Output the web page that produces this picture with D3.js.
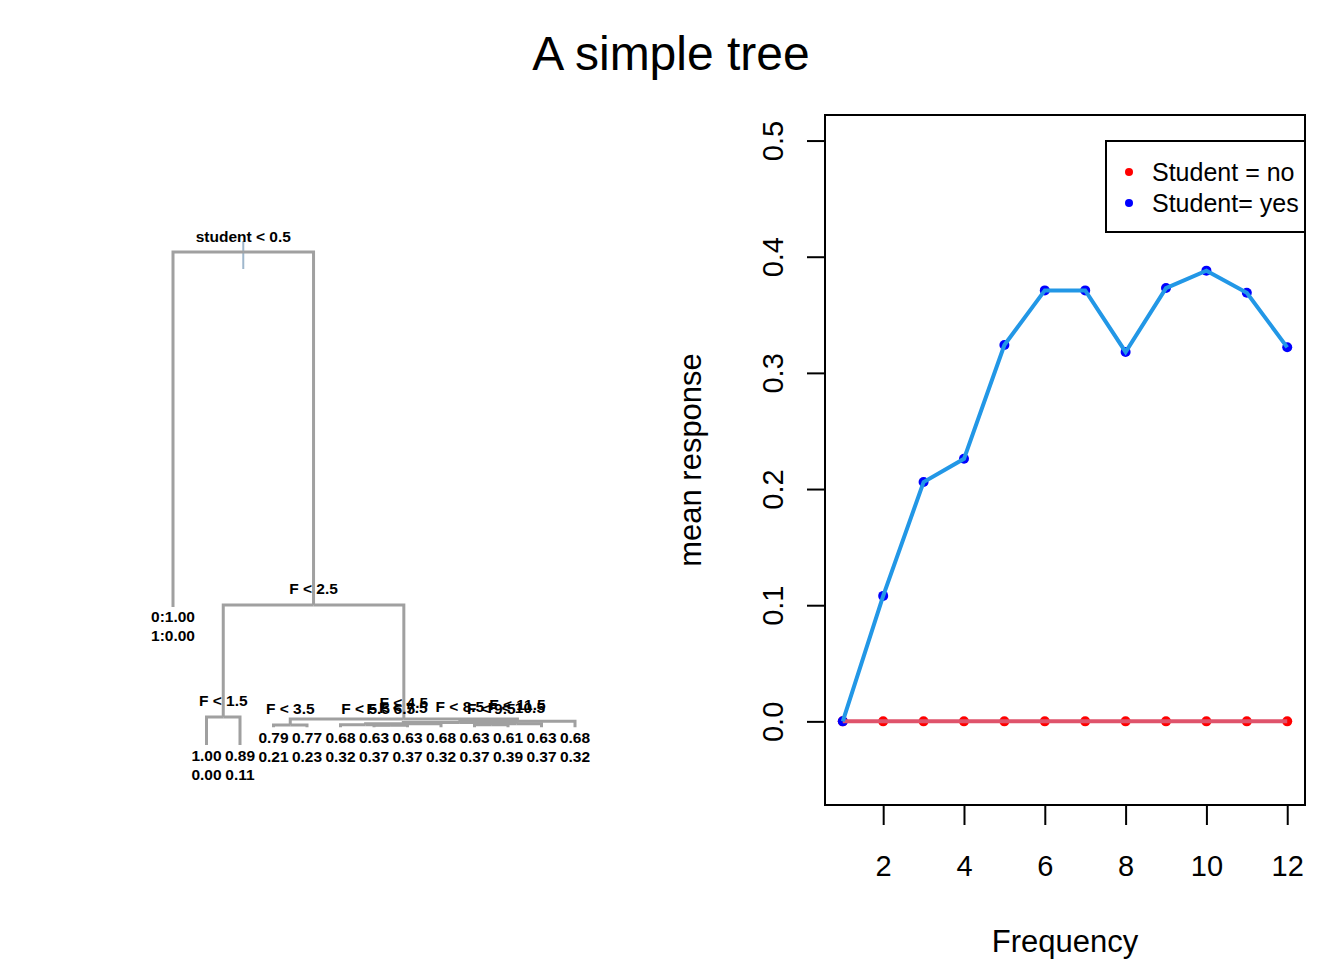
<!DOCTYPE html>
<html lang="en">
<head>
<meta charset="UTF-8">
<title>A simple tree</title>
<style>
    body { margin:0; background:#fff; }
    svg text { font-family: "Liberation Sans", Arial, sans-serif; }
    .tree text { font-weight:bold; font-size:15.5px; fill:#000; }
    .axis text { font-size:29px; fill:#000; }
    .axis line { stroke:#000; stroke-width:2; }
</style>
</head>
<body>
<script src="https://cdn.jsdelivr.net/npm/d3@7"></script>
<script>
// ---- tree data (left panel) ----
var nodeName   = ["root","no","s2","s1","F1","F2","s4","s3","F3","F4","s11","s8","s7","s5","F5","s6","F6","F7","F8","s10","s9","F9","F10","F11","F12"];
var nodeParent = ["",   "root","root","s2","s1","s1","s2","s4","s3","s3","s4","s11","s8","s7","s5","s5","s6","s6","s7","s8","s10","s9","s9","s10","s11"];
var splitLabel = {root:"student < 0.5", s2:"F < 2.5", s1:"F < 1.5", s4:"F < 4.5", s3:"F < 3.5",
                  s11:"F < 11.5", s8:"F < 8.5", s7:"F < 7.5", s5:"F < 5.5", s6:"F < 6.5", s10:"F < 10.5", s9:"F < 9.5"};
// node deviance (estimated, arbitrary units)
var nodeDev    = [500, 140, 142, 28.4, 0, 0, 26.4, 20.3, 18, 18, 24, 22.8, 21.5, 20.5, 18, 20, 18, 18, 18, 21.5, 20.5, 18, 18, 18, 18];
var leafProb0  = {no:"0:1.00", F1:"1.00", F2:"0.89", F3:"0.79", F4:"0.77", F5:"0.68", F6:"0.63", F7:"0.63", F8:"0.68", F9:"0.63", F10:"0.61", F11:"0.63", F12:"0.68"};
var leafProb1  = {no:"1:0.00", F1:"0.00", F2:"0.11", F3:"0.21", F4:"0.23", F5:"0.32", F6:"0.37", F7:"0.37", F8:"0.32", F9:"0.37", F10:"0.39", F11:"0.37", F12:"0.32"};

// ---- mean response data (right panel) ----
var frequency = [1,2,3,4,5,6,7,8,9,10,11,12];
var meanNo    = [0,0,0,0,0,0,0,0,0,0,0,0];
var meanYes   = [0,0.108,0.206,0.226,0.324,0.371,0.371,0.318,0.373,0.388,0.369,0.322];
var xTicks = [2,4,6,8,10,12];
var yTicks = [0,0.1,0.2,0.3,0.4,0.5];

var w = 1344, h = 960;
var svg = d3.select("body").append("svg").attr("width",w).attr("height",h);

svg.append("text").attr("x",671).attr("y",70).attr("text-anchor","middle")
    .attr("font-size","48px").text("A simple tree");

// ================= tree =================
var rows = nodeName.map(function (d,i) {
    return {id:d, parentId:nodeParent[i] || null, dev:nodeDev[i]};
});
var root = d3.stratify()(rows);
var leaves = root.leaves();
var xTree = d3.scaleLinear().domain([0, leaves.length-1]).range([173,575]);
var yTree = d3.scaleLinear().domain([0,500]).range([745,252]);
leaves.forEach(function (d,i) { d.x = xTree(i); });
root.eachAfter(function (d) {
    if (d.children) d.x = d3.mean(d.children, function (c) { return c.x; });
    d.y = yTree(d.data.dev);
});

var tree = svg.append("g").attr("class","tree");
// root marker
tree.append("line").attr("x1",root.x).attr("x2",root.x).attr("y1",root.y-11).attr("y2",root.y+17)
    .attr("stroke","#9fb7cc").attr("stroke-width",2);

tree.selectAll("path.edge")
    .data(root.descendants().filter(function (d) { return d.parent; }))
    .enter().append("path")
    .attr("class","edge")
    .attr("fill","none").attr("stroke","#a0a0a0").attr("stroke-width",3)
    .attr("d",function (d) {
        return "M" + d.x + "," + d.y + "V" + d.parent.y + "H" + d.parent.x;
    });

tree.selectAll("text.split")
    .data(root.descendants().filter(function (d) { return d.children; }))
    .enter().append("text")
    .attr("class","split").attr("text-anchor","middle")
    .attr("x",function (d) { return d.x; })
    .attr("y",function (d) { return d.y - (d === root ? 10 : 11); })
    .text(function (d) { return splitLabel[d.id]; });

var leafG = tree.selectAll("g.leaf").data(leaves).enter().append("g").attr("class","leaf");
leafG.append("text").attr("text-anchor","middle")
    .attr("x",function (d) { return d.x; })
    .attr("y",function (d) { return d.y + 15.5; })
    .text(function (d) { return leafProb0[d.id]; });
leafG.append("text").attr("text-anchor","middle")
    .attr("x",function (d) { return d.x; })
    .attr("y",function (d) { return d.y + 34.5; })
    .text(function (d) { return leafProb1[d.id]; });

// ================= line plot =================
var pLeft = 825, pRight = 1305, pTop = 115, pBottom = 805;
var xScale = d3.scaleLinear().domain([0.56,12.44]).range([pLeft,pRight]);
var yScale = d3.scaleLinear().domain([-0.072,0.522]).range([pBottom,pTop]);

var xAxis = d3.axisBottom(xScale).tickValues(xTicks).tickSize(20).tickSizeOuter(0);
var yAxis = d3.axisLeft(yScale).tickValues(yTicks).tickSize(18).tickSizeOuter(0).tickFormat(d3.format(".1f"));

var gx = svg.append("g").attr("class","axis").attr("transform","translate(0,"+pBottom+")").call(xAxis);
gx.select(".domain").remove();
gx.selectAll("text").attr("y",71).attr("dy",null).attr("font-family",null);

var gy = svg.append("g").attr("class","axis").attr("transform","translate("+pLeft+",0)").call(yAxis);
gy.select(".domain").remove();
gy.selectAll("text").attr("x",0).attr("dy",null).attr("y",-42)
    .attr("transform","rotate(-90)").attr("text-anchor","middle").attr("font-family",null);

svg.append("rect").attr("x",pLeft).attr("y",pTop).attr("width",pRight-pLeft).attr("height",pBottom-pTop)
    .attr("fill","none").attr("stroke","#000").attr("stroke-width",2);

svg.append("text").attr("x",(pLeft+pRight)/2).attr("y",952).attr("text-anchor","middle")
    .attr("font-size","31px").text("Frequency");
svg.append("text").attr("transform","translate(701,"+((pTop+pBottom)/2)+") rotate(-90)")
    .attr("text-anchor","middle").attr("font-size","31px").text("mean response");

var line = d3.line().x(function (d,i) { return xScale(frequency[i]); }).y(function (d) { return yScale(d); });

svg.selectAll("circle.no").data(meanNo).enter().append("circle").attr("class","no")
    .attr("cx",function (d,i) { return xScale(frequency[i]); })
    .attr("cy",function (d) { return yScale(d); })
    .attr("r",5).attr("fill","#ff0000");
svg.selectAll("circle.yes").data(meanYes).enter().append("circle").attr("class","yes")
    .attr("cx",function (d,i) { return xScale(frequency[i]); })
    .attr("cy",function (d) { return yScale(d); })
    .attr("r",5).attr("fill","#0000ff");
svg.append("path").datum(meanNo).attr("d",line).attr("fill","none").attr("stroke","#DF536B").attr("stroke-width",4);
svg.append("path").datum(meanYes).attr("d",line).attr("fill","none").attr("stroke","#2297E6").attr("stroke-width",4);

// legend
var lg = svg.append("g");
lg.append("rect").attr("x",1106).attr("y",141).attr("width",199).attr("height",91)
    .attr("fill","#fff").attr("stroke","#000").attr("stroke-width",2);
var legendLabels = ["Student = no","Student= yes"];
var legendColors = ["#ff0000","#0000ff"];
legendLabels.forEach(function (t,i) {
    lg.append("circle").attr("cx",1129).attr("cy",172+31*i).attr("r",4).attr("fill",legendColors[i]);
    lg.append("text").attr("x",1152).attr("y",181+31*i).attr("font-size","25px").text(t);
});
</script>
</body>
</html>
